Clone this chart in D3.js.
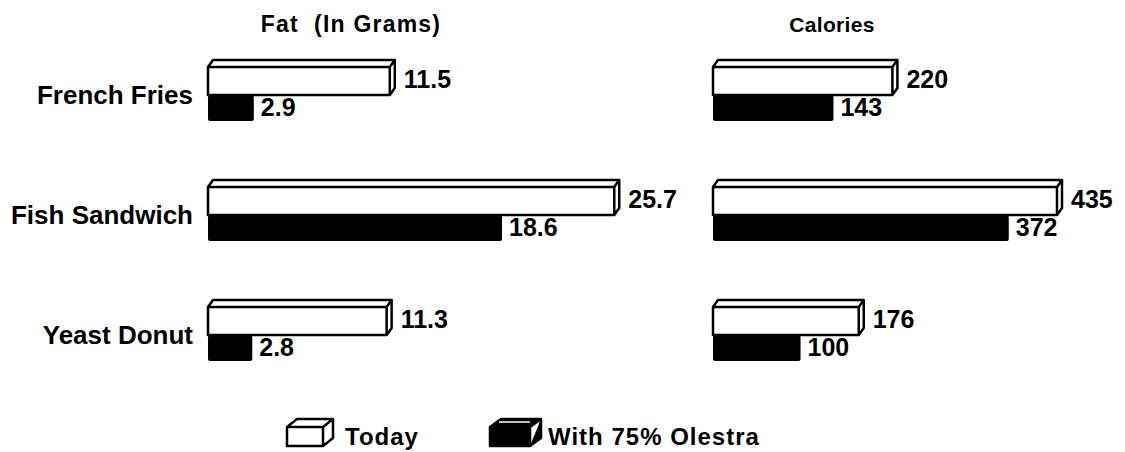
<!DOCTYPE html>
<html>
<head>
<meta charset="utf-8">
<script src="https://cdn.jsdelivr.net/npm/d3@7"></script>
<style>
	html, body { margin: 0; padding: 0; background: #fff; }
	svg text { font-family: "Liberation Sans", Arial, sans-serif; font-weight: bold; fill: #000; }
</style>
</head>
<body>
<svg id="chart" width="1125" height="452"></svg>
<script>
const foods = ["French Fries", "Fish Sandwich", "Yeast Donut"];
const fatToday = [11.5, 25.7, 11.3];
const fatOlestra = [2.9, 18.6, 2.8];
const calToday = [220, 435, 176];
const calOlestra = [143, 372, 100];
const fatLabels = ["11.5", "25.7", "11.3"];
const fatOlestraLabels = ["2.9", "18.6", "2.8"];
const panelTitles = ["Fat  (In Grams)", "Calories"];
const legendLabels = ["Today", "With 75% Olestra"];

const width = 1125,
	height = 452,
	barH = 28,
	darkH = 26,
	dx = 5,
	dy = 7;

const svg = d3.select("#chart");

const y = d3.scalePoint()
	.domain(foods)
	.range([67, 307]);

const panels = [
	{
		title: panelTitles[0],
		titleSize: 23,
		titleSpacing: 1.2,
		x0: 208,
		today: fatToday,
		olestra: fatOlestra,
		todayText: fatLabels,
		olestraText: fatOlestraLabels,
		x: d3.scaleLinear().domain([0, 26]).range([208, 619]),
		titleX: 351
	},
	{
		title: panelTitles[1],
		titleSize: 21,
		titleSpacing: 0.3,
		x0: 713,
		today: calToday,
		olestra: calOlestra,
		todayText: calToday.map(String),
		olestraText: calOlestra.map(String),
		x: d3.scaleLinear().domain([0, 435]).range([724, 1057]),
		titleX: 832
	}
];

// category labels, centred on the seam between the two bars
svg.append("g")
	.selectAll("text")
	.data(foods)
	.join("text")
	.attr("x", 193)
	.attr("y", d => y(d) + barH + 9)
	.attr("text-anchor", "end")
	.attr("font-size", 26)
	.text(d => d);

function boxPath(x0, x1, top, h, ddx, ddy) {
	const p = d3.path();
	// front
	p.rect(x0, top, x1 - x0, h);
	// top face
	p.moveTo(x0, top);
	p.lineTo(x0 + ddx, top - ddy);
	p.lineTo(x1 + ddx, top - ddy);
	p.lineTo(x1, top);
	// right face
	p.moveTo(x1 + ddx, top - ddy);
	p.lineTo(x1 + ddx, top + h - ddy);
	p.lineTo(x1, top + h);
	return p.toString();
}

panels.forEach(panel => {
	const g = svg.append("g");

	g.append("text")
		.attr("x", panel.titleX)
		.attr("y", 32)
		.attr("text-anchor", "middle")
		.attr("font-size", panel.titleSize)
		.attr("letter-spacing", panel.titleSpacing)
		.attr("xml:space", "preserve")
		.text(panel.title);

	const rows = g.selectAll("g.row")
		.data(foods)
		.join("g")
		.attr("class", "row");

	// olestra bar (solid black) under the white one
	rows.append("rect")
		.attr("x", panel.x0)
		.attr("y", d => y(d) + barH)
		.attr("width", (d, i) => panel.x(panel.olestra[i]) - panel.x0)
		.attr("height", darkH)
		.attr("rx", 2)
		.attr("fill", "#000");

	// today bar (white 3D box)
	rows.append("path")
		.attr("d", (d, i) => boxPath(panel.x0, panel.x(panel.today[i]), y(d), barH, dx, dy))
		.attr("fill", "#fff")
		.attr("stroke", "#000")
		.attr("stroke-width", 2.5)
		.attr("stroke-linejoin", "round");

	rows.append("text")
		.attr("x", (d, i) => panel.x(panel.today[i]) + dx + 9)
		.attr("y", d => y(d) + barH / 2 + 7)
		.attr("font-size", 25)
		.text((d, i) => panel.todayText[i]);

	rows.append("text")
		.attr("x", (d, i) => panel.x(panel.olestra[i]) + 7)
		.attr("y", d => y(d) + barH + darkH / 2 + 8)
		.attr("font-size", 25)
		.text((d, i) => panel.olestraText[i]);
});

// legend
const legend = svg.append("g");
const legendX = [287, 490];

legend.append("path")
	.attr("d", boxPath(legendX[0], legendX[0] + 36, 427, 19, 10, 8))
	.attr("fill", "#fff")
	.attr("stroke", "#000")
	.attr("stroke-width", 2.5)
	.attr("stroke-linejoin", "round");

legend.append("path")
	.attr("d", boxPath(legendX[1], legendX[1] + 40, 427, 19, 11, 8))
	.attr("fill", "#000")
	.attr("stroke", "#000")
	.attr("stroke-width", 2.5)
	.attr("stroke-linejoin", "round");

legend.append("line")
	.attr("x1", legendX[1] + 9)
	.attr("x2", legendX[1] + 40)
	.attr("y1", 422)
	.attr("y2", 422)
	.attr("stroke", "#fff")
	.attr("stroke-width", 1.5);

legend.selectAll("text")
	.data(legendLabels)
	.join("text")
	.attr("x", (d, i) => legendX[i] + 58)
	.attr("y", 445)
	.attr("font-size", 24)
	.attr("letter-spacing", 1)
	.text(d => d);
</script>
</body>
</html>
